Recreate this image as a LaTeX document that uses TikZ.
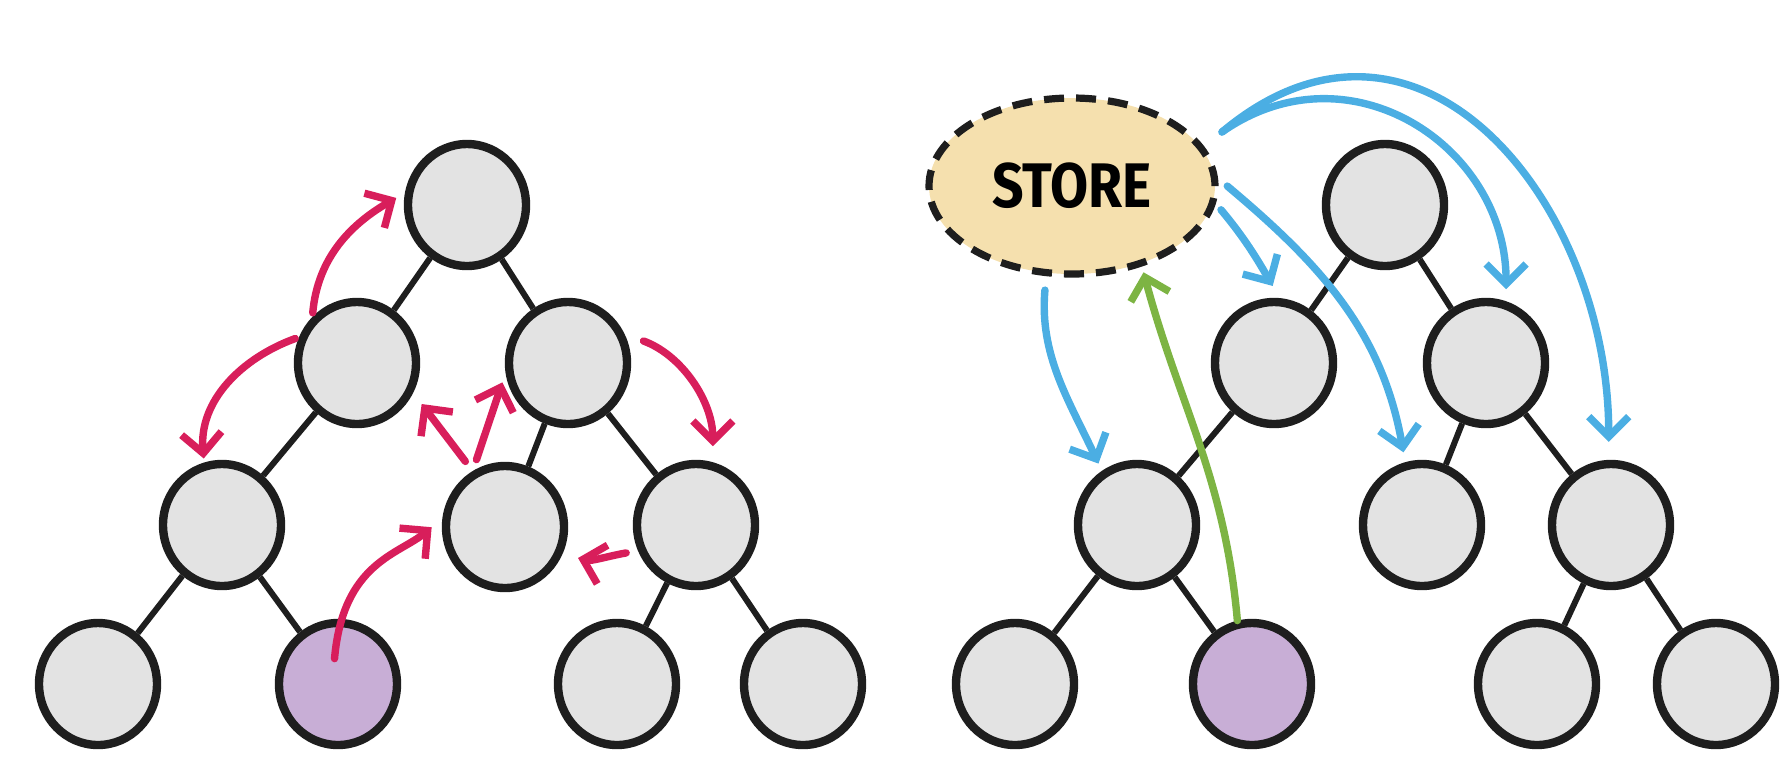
\documentclass[tikz,border=0pt]{standalone}
\usepackage{fontspec}
\newfontfamily\storefont{Fira Sans}
\usepackage{tikz}
\usetikzlibrary{arrows.meta,positioning,shapes.geometric}
\definecolor{nodegray}{HTML}{E3E3E3}
\definecolor{nodepurple}{HTML}{C8AED6}
\definecolor{linkblack}{HTML}{1E1E1E}
\definecolor{arrred}{HTML}{D81E5B}
\definecolor{arrblue}{HTML}{4BAEE3}
\definecolor{arrgreen}{HTML}{7DB443}
\definecolor{storefill}{HTML}{F5E0AE}

\begin{document}
\begin{tikzpicture}[x=0.5pt,y=-0.5pt,on grid,
  tnode/.style={ellipse,draw=linkblack,line width=4.2pt,fill=nodegray,minimum width=59pt,
    minimum height=61pt,inner sep=0pt},
  hit/.style={tnode,fill=nodepurple},
  link/.style={line width=3pt,linkblack},
  store/.style={ellipse,draw=linkblack,line width=3.6pt,dash pattern=on 10pt off 6pt,fill=storefill,
    minimum width=143pt,minimum height=88pt,inner sep=0pt,font=\storefont\bfseries\fontsize{30}{31}\selectfont},
  redarr/.style={-{Straight Barb[length=10pt,width=20pt]},line width=3.7pt,arrred,line cap=round},
  bluearr/.style={redarr,arrblue},
  greenarr/.style={redarr,arrgreen}]
  \useasboundingbox (0,0) rectangle (1788,757);
  % left tree: bubbling up one level at a time
  \node[tnode] (r0) at (467,205) {};
  \node[tnode,below left=79pt and 55pt of r0] (a1) {};
  \node[tnode,below right=79pt and 50.5pt of r0] (b1) {};
  \node[tnode,below left=81pt and 67.5pt of a1] (a2) {};
  \node[tnode,below left=82pt and 31.5pt of b1] (b2) {};
  \node[tnode,below right=81pt and 64pt of b1] (c2) {};
  \node[tnode,below left=79.5pt and 62pt of a2] (a3) {};
  \node[hit,below right=79.5pt and 58pt of a2] (p3) {};
  \node[tnode,below left=79.5pt and 39.5pt of c2] (c3) {};
  \node[tnode,below right=79.5pt and 53.5pt of c2] (d3) {};
  \draw[link] (r0) -- (a1);
  \draw[link] (r0) -- (b1);
  \draw[link] (a1) -- (a2);
  \draw[link] (b1) -- (b2);
  \draw[link] (b1) -- (c2);
  \draw[link] (a2) -- (a3);
  \draw[link] (a2) -- (p3);
  \draw[link] (c2) -- (c3);
  \draw[link] (c2) -- (d3);
  \draw[redarr,shorten <=-20pt,shorten >=7pt] (p3.north) to[out=85,in=220] (b2.172);
  \draw[redarr,shorten <=6pt,shorten >=8pt] (c2.204) to[out=190,in=-15] (b2.-25);
  \draw[redarr,shorten <=6pt,shorten >=7pt] (b2.120) -- (a1.-28);
  \draw[redarr,shorten <=6pt,shorten >=5pt] (b2.120) -- (b1.189);
  \draw[redarr,shorten <=10pt,shorten >=8pt] (b1.27) to[out=-20,in=90] (c2.75);
  \draw[redarr,shorten <=2pt,shorten >=2pt] (a1.156) to[out=200,in=95] (a2.106);
  \draw[redarr,shorten <=2pt,shorten >=5pt] (a1.134) to[out=85,in=210] (r0.169);
  % right tree: the store hands out the value
  \node[store] (store) at (1072,186) {\scalebox{0.92}[1.05]{STORE}};
  \coordinate (fan) at (1222,132);
  \node[tnode] (R0) at (1385,205) {};
  \node[tnode,below left=79pt and 55.5pt of R0] (A1) {};
  \node[tnode,below right=79pt and 50.5pt of R0] (B1) {};
  \node[tnode,below left=81pt and 68.5pt of A1] (A2) {};
  \node[tnode,below left=81pt and 32pt of B1] (B2) {};
  \node[tnode,below right=81pt and 62.5pt of B1] (C2) {};
  \node[tnode,below left=79.5pt and 61pt of A2] (A3) {};
  \node[hit,below right=79.5pt and 57.5pt of A2] (P3) {};
  \node[tnode,below left=79.5pt and 37pt of C2] (C3) {};
  \node[tnode,below right=79.5pt and 52.5pt of C2] (D3) {};
  \draw[link] (R0) -- (A1);
  \draw[link] (R0) -- (B1);
  \draw[link] (A1) -- (A2);
  \draw[link] (B1) -- (B2);
  \draw[link] (B1) -- (C2);
  \draw[link] (A2) -- (A3);
  \draw[link] (A2) -- (P3);
  \draw[link] (C2) -- (C3);
  \draw[link] (C2) -- (D3);
  \draw[greenarr,shorten >=3pt] (P3.103) to[out=95,in=-75] (store.-49);
  \draw[bluearr,shorten <=7pt,shorten >=4pt] (store.-106) to[out=-95,in=115] (A2.123);
  \draw[bluearr,shorten <=4pt,shorten >=7pt] (store.-7) to[out=-50,in=120] (A1.85);
  \draw[bluearr,shorten <=6pt,shorten >=5pt] (store.3) to[out=-40,in=100] (B2.105);
  \draw[bluearr,shorten >=6pt] (fan) to[out=35,in=90,looseness=1.2] (B1.72);
  \draw[bluearr,shorten >=9pt] (fan) to[out=40,in=90,looseness=1.3] (C2.92);
\end{tikzpicture}
\end{document}
